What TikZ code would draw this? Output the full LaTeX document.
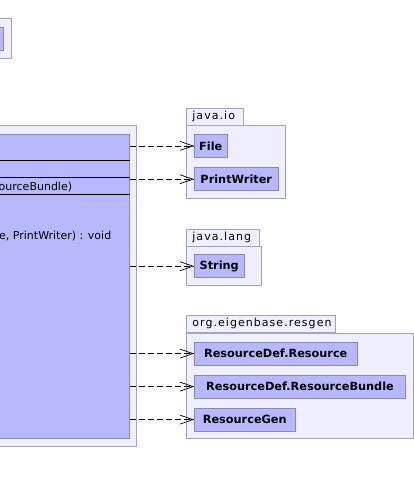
\documentclass[tikz,border=0pt]{standalone}
\usepackage{fontspec}
\setmainfont{DejaVu Sans}
\newfontfamily\pkgfont[LetterSpace=9.5]{DejaVu Sans}
\usetikzlibrary{arrows.meta}

\definecolor{pkgfill}{RGB}{238,238,255}
\definecolor{pkgline}{RGB}{164,164,184}
\definecolor{clsfill}{RGB}{184,184,255}
\definecolor{clsline}{RGB}{136,136,176}

\tikzset{
  pkgbody/.style={draw=pkgline, fill=pkgfill, line width=0.8pt},
  pkgtab/.style={draw=pkgline, fill=pkgfill, line width=0.8pt, anchor=north west,
    inner xsep=6pt, inner ysep=0pt, minimum height=16.7pt, text height=8pt,
    align=left, font=\fontsize{11}{12}\pkgfont},
  clsbox/.style={draw=clsline, fill=clsfill, line width=0.8pt, anchor=north west,
    minimum height=23pt, inner sep=0pt, font=\fontsize{11.3}{12}\bfseries\selectfont},
  member/.style={anchor=west, inner sep=0pt, font=\fontsize{11}{12}\selectfont},
  dep/.style={dash pattern=on 6pt off 3pt, line width=0.7pt,
    -{Straight Barb[length=13pt, width=9pt, line width=0.7pt]}}
}

\begin{document}
\begin{tikzpicture}[x=1pt, y=-1pt]
  \clip (0,0) rectangle (414,482);
  \fill[white] (0,0) rectangle (414,482);

  % package at top left
  \draw[pkgbody] (-20,18) rectangle (11.7,58);
  \draw[draw=clsline, fill=clsfill, line width=0.8pt] (-20,27) rectangle (3.3,50);

  % package holding the class
  \draw[pkgbody] (-20,125.7) rectangle (136,446);
  \node[clsbox, minimum width=148.7pt, minimum height=304pt] (cls) at (-20,134) {};
  \foreach \y in {160.7,177.7,194.3} {
      \draw[line width=0.8pt] (cls.west |- 0,\y) -- (cls.east |- 0,\y);
    }
  \node[member] (ctor) at (-1.5,187) {ourceBundle)};
  \node[member] (meth) at (-1,236) {e, PrintWriter) : void};

  % java.io
  \node[pkgtab, text width=45.3pt] (io) at (186,108.3) {java.io};
  \draw[pkgbody] (186,125) rectangle (285.7,198.3);
  \node[clsbox, minimum width=32.7pt] (file) at (194,134) {File};
  \node[clsbox, minimum width=83.7pt] (pw) at (194,167.3) {PrintWriter};

  % java.lang
  \node[pkgtab, text width=60.7pt] (lang) at (186,229.3) {java.lang};
  \draw[pkgbody] (186,246) rectangle (261.7,285);
  \node[clsbox, minimum width=49.7pt] (str) at (194,254.3) {String};

  % org.eigenbase.resgen
  \node[pkgtab, text width=137.3pt] (resgen) at (186,315.3) {org.eigenbase.resgen};
  \draw[pkgbody] (186,333) rectangle (413.5,438.3);
  \node[clsbox, minimum width=162.7pt] (rdr) at (194,341.7) {ResourceDef.Resource};
  \node[clsbox, minimum width=211.3pt] (rdb) at (194,374.7) {ResourceDef.ResourceBundle};
  \node[clsbox, minimum width=100.7pt] (rgen) at (194,407.7) {ResourceGen};

  % dependencies
  \foreach \t in {file,pw,str,rdr,rdb,rgen} {
      \draw[dep] (cls.east |- \t.west) -- (\t.west);
    }
\end{tikzpicture}
\end{document}
